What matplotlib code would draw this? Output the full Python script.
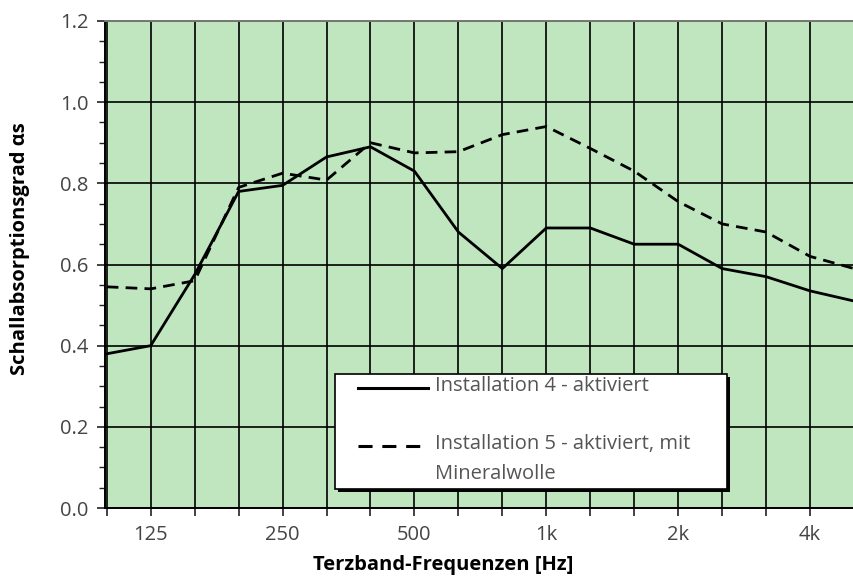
import numpy as np
import matplotlib
matplotlib.use('Agg')
import matplotlib.pyplot as plt
from matplotlib.ticker import MultipleLocator
from matplotlib.patches import Rectangle
from matplotlib.lines import Line2D

plt.rcParams['font.family'] = ['Open Sans', 'DejaVu Sans']

# terzband centre frequencies (100 Hz .. 5 kHz)
bands = ['100', '125', '160', '200', '250', '315', '400', '500', '630', '800',
         '1k', '1.25k', '1.6k', '2k', '2.5k', '3.15k', '4k', '5k']
shown_labels = ['125', '250', '500', '1k', '2k', '4k']

inst4 = [0.38, 0.40, 0.575, 0.78, 0.795, 0.865, 0.89, 0.83, 0.68, 0.59,
         0.69, 0.69, 0.65, 0.65, 0.59, 0.57, 0.535, 0.51]
inst5 = [0.545, 0.54, 0.56, 0.79, 0.825, 0.808, 0.90, 0.875, 0.878, 0.92,
         0.94, 0.886, 0.83, 0.755, 0.70, 0.68, 0.62, 0.59]

label4 = 'Installation 4 - aktiviert'
label5 = 'Installation 5 - aktiviert, mit'
label5b = 'Mineralwolle'

W, H = 854, 583
FS = 14.5
fig = plt.figure(figsize=(W / 100, H / 100), dpi=100)
ax = fig.add_axes([105 / W, 1 - 508 / H, 1 - 105 / W, (508 - 21) / H])
ax.set_facecolor('#bfe6bf')

x = np.arange(len(bands))
dash = (0, (4.2, 2.6))
ax.plot(x, inst4, color='black', lw=2.0, solid_joinstyle='miter')
ax.plot(x, inst5, color='black', lw=2.0, ls=dash)

ax.set_xlim(-0.04, 16.88)
ax.set_ylim(0, 1.2)

ax.set_xticks(x)
ax.set_xticklabels([b if b in shown_labels else '' for b in bands])
ax.yaxis.set_minor_locator(MultipleLocator(0.05))
yt = np.arange(0, 1.21, 0.2)
ax.set_yticks(yt)
ax.set_yticklabels(['%.1f' % v for v in yt])

ax.grid(True, which='major', color='black', lw=1.2)
ax.set_axisbelow(True)

ax.tick_params(axis='both', which='major', direction='out', length=6, width=1.2,
               labelsize=FS, labelcolor='#444444', color='#222222')
ax.tick_params(axis='y', which='minor', direction='out', length=4, width=1.0, color='#222222')
ax.tick_params(axis='x', which='major', pad=6)
ax.tick_params(axis='y', which='major', pad=6)

for side in ['left', 'bottom']:
    ax.spines[side].set_color('black')
    ax.spines[side].set_linewidth(1.4)
ax.spines['top'].set_color('#777777')
ax.spines['top'].set_linewidth(1.4)
ax.spines['right'].set_visible(False)

fig.text(443 / W, 1 - 565 / H, 'Terzband-Frequenzen [Hz]', fontsize=FS,
         fontweight='bold', ha='center', va='center')
fig.text(20 / W, 1 - 249 / H, 'Schallabsorptionsgrad αs', fontsize=FS,
         fontweight='bold', ha='center', va='center', rotation=90)

# legend box drawn by hand so the dashed sample sits on the first text line
def px(xp, yp):
    return xp / W, 1 - yp / H

fig.patches.append(Rectangle(px(338, 492), (727 - 335) / W, (489 - 374) / H,
                             transform=fig.transFigure, facecolor='black',
                             edgecolor='none', zorder=5))
fig.patches.append(Rectangle(px(335, 489), (727 - 335) / W, (489 - 374) / H,
                             transform=fig.transFigure, facecolor='white',
                             edgecolor='black', lw=1.2, zorder=6))
x0, y0 = px(358, 388)
x1, _ = px(428, 388)
fig.lines.append(Line2D([x0, x1], [y0, y0], transform=fig.transFigure,
                        color='black', lw=2.2, zorder=7))
_, y1 = px(358, 446)
fig.lines.append(Line2D([x0, x1], [y1, y1], transform=fig.transFigure,
                        color='black', lw=2.2, ls=(0, (4.6, 3.2)), zorder=7))
for text, yp in [(label4, 386), (label5, 444), (label5b, 474)]:
    tx, ty = px(435, yp)
    fig.text(tx, ty, text, fontsize=FS, color='#555555', ha='left',
             va='center', zorder=8)

fig.savefig('out.png', dpi=100)
